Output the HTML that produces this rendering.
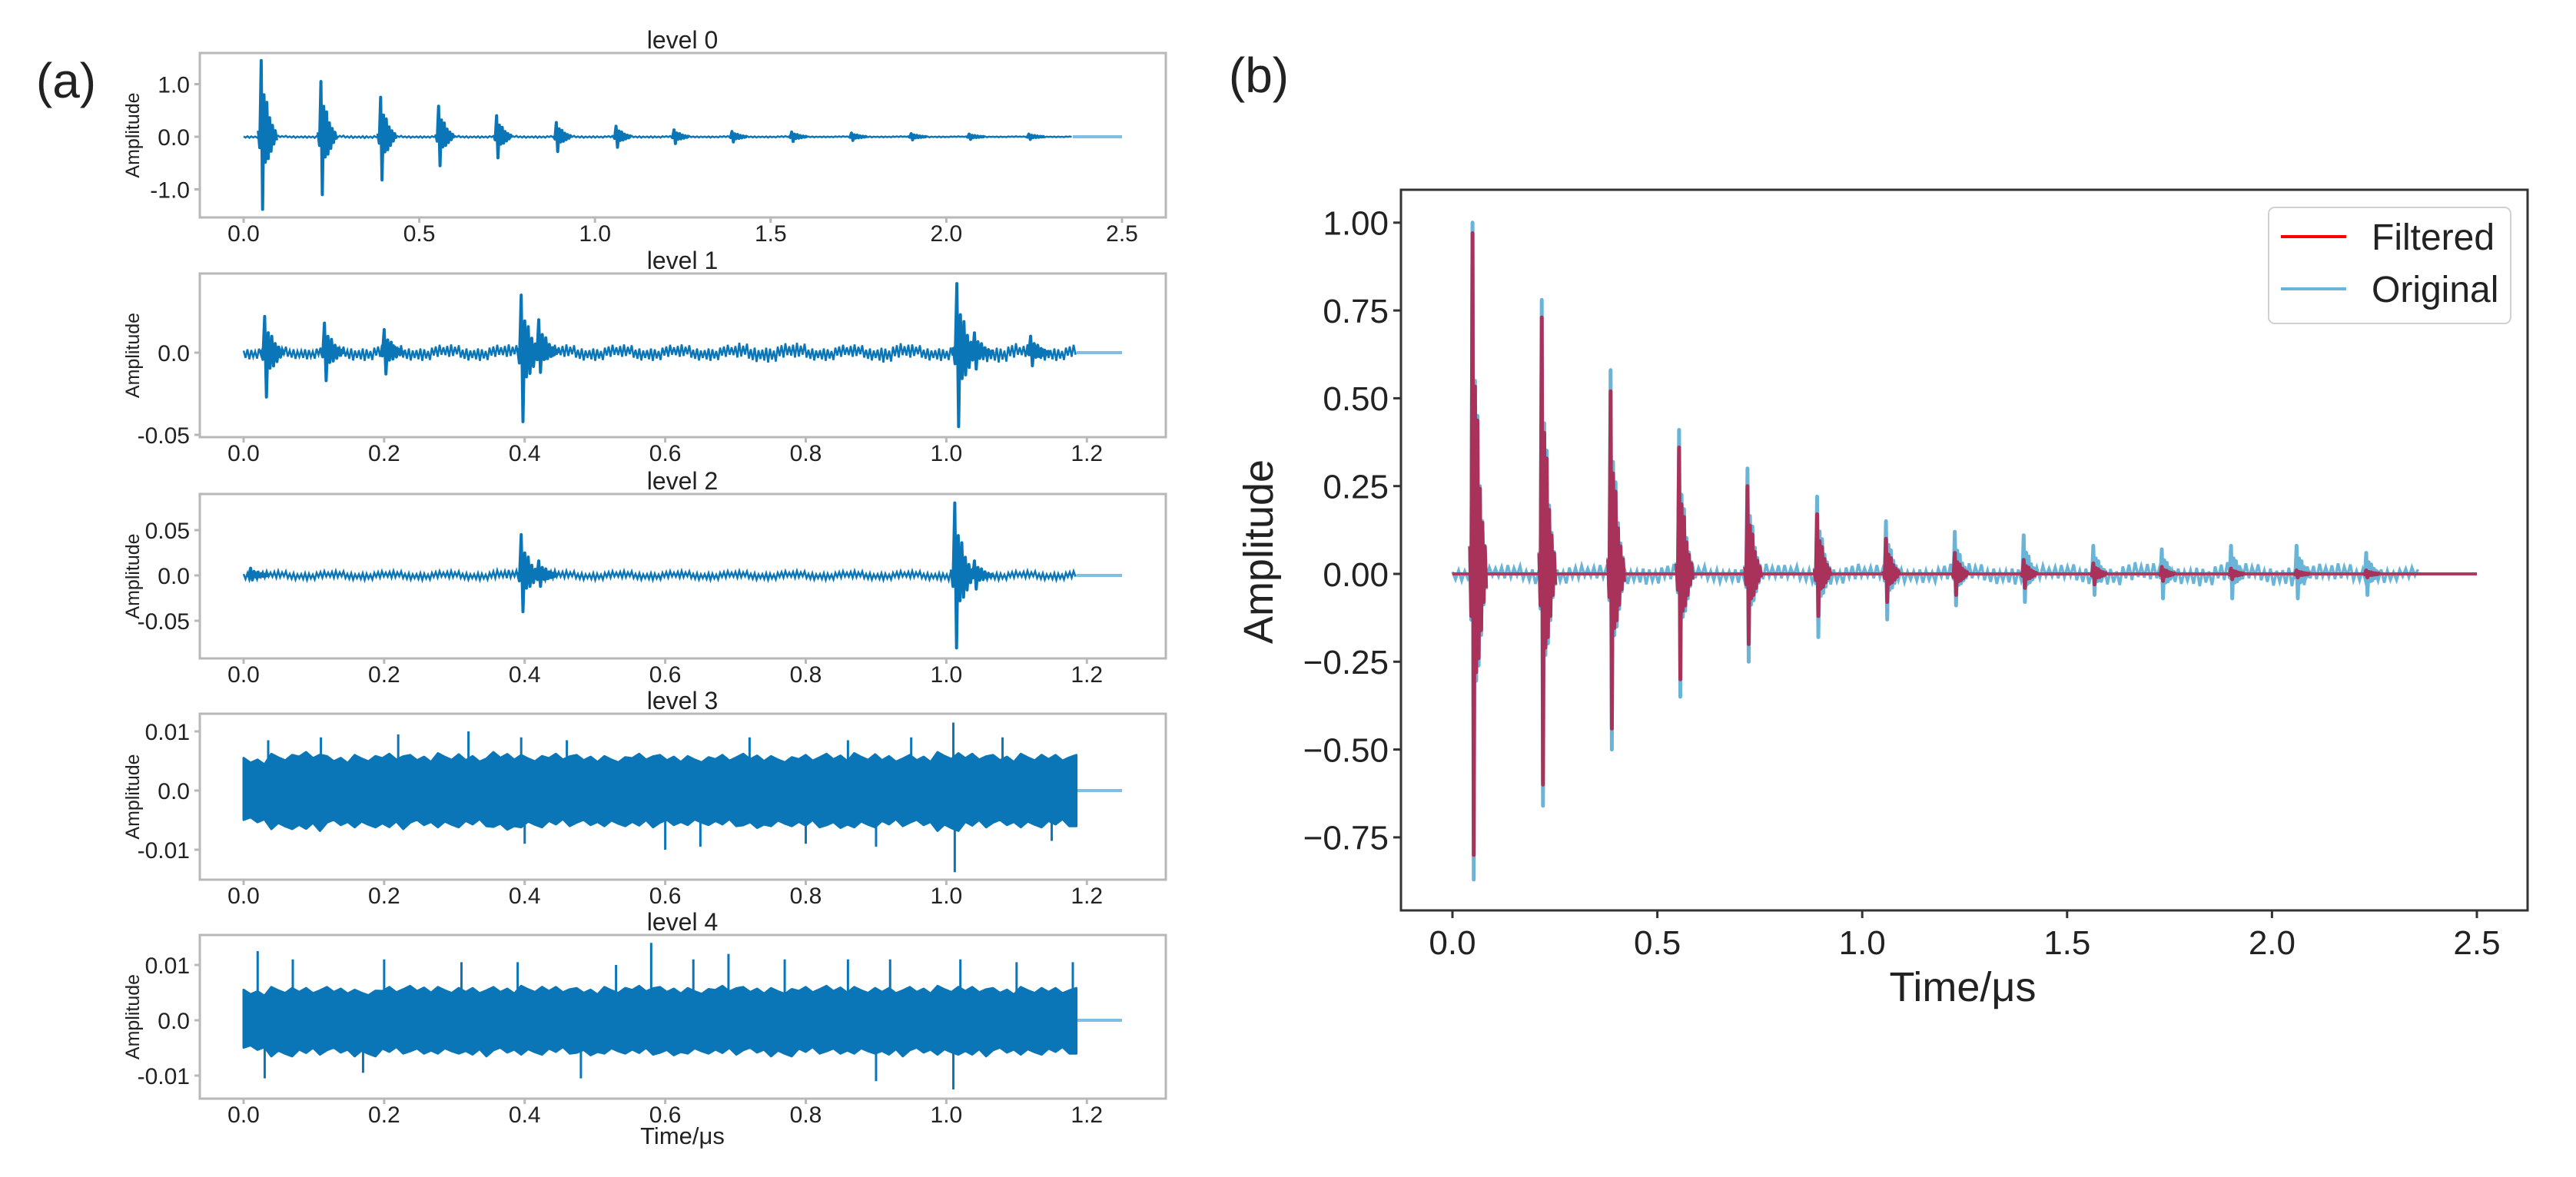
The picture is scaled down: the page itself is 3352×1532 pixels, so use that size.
<!DOCTYPE html>
<html><head><meta charset="utf-8">
<style>
html,body{margin:0;padding:0;background:#fff;}
svg{display:block;}
text{font-family:"Liberation Sans Narrow","Liberation Sans","DejaVu Sans",sans-serif;fill:#222;}
</style></head>
<body>
<svg id="fig" xmlns="http://www.w3.org/2000/svg" width="3352" height="1532" viewBox="0 0 3352 1532">
<text x="86" y="127" font-size="64" text-anchor="middle">(a)</text>
<text x="1638" y="120" font-size="64" text-anchor="middle">(b)</text>
<g id="layer"></g>
</svg>
<script>
// ---------- data ----------
const L0_burstTimes = [0.05,0.22,0.39,0.555,0.72,0.89,1.06,1.225,1.39,1.56,1.73,1.9,2.065,2.235];
const L0_burstMax   = [1.45,1.05,0.75,0.58,0.40,0.27,0.20,0.13,0.10,0.09,0.07,0.06,0.05,0.05];
const L0_burstMin   = [-1.38,-1.10,-0.82,-0.55,-0.40,-0.28,-0.20,-0.13,-0.10,-0.09,-0.07,-0.06,-0.05,-0.05];
const L0_noise = [0.02,0.025,0.02,0.02,0.02,0.018,0.015,0.015,0.012,0.012,0.01,0.01];
const L1_burstTimes = [0.03,0.115,0.2,0.395,0.42,1.015,1.04,1.12];
const L1_burstMax   = [0.022,0.018,0.014,0.035,0.02,0.042,0.012,0.01];
const L1_burstMin   = [-0.027,-0.017,-0.013,-0.042,-0.012,-0.045,-0.01,-0.008];
const L1_noise = [0.004,0.004,0.004,0.005,0.005,0.005,0.005,0.005,0.005,0.005,0.005,0.005,0.005,0.005,0.006,0.006,0.005,0.005,0.006,0.005,0.005,0.006,0.005,0.005];
const L2_burstTimes = [0.01,0.395,0.42,1.012,1.04];
const L2_burstMax   = [0.008,0.045,0.016,0.08,0.016];
const L2_burstMin   = [-0.005,-0.04,-0.012,-0.08,-0.015];
const L2_noise = [0.005,0.005,0.005,0.005,0.005,0.005,0.005,0.006,0.006,0.005,0.005,0.005,0.005,0.005,0.005,0.005,0.005,0.005,0.005,0.005,0.006,0.005,0.005,0.005];
const L3_coreMax = [0.0055,0.0062,0.0065,0.0058,0.006,0.0062,0.006,0.0063,0.0058,0.0065,0.006,0.0062,0.006,0.0058,0.0062,0.006,0.0058,0.006,0.0062,0.0058,0.006,0.0062,0.0063,0.0058,0.006,0.0065,0.0062,0.006,0.0062,0.006];
const L3_coreMin = [-0.0055,-0.0065,-0.0068,-0.006,-0.0062,-0.0065,-0.006,-0.0062,-0.006,-0.0068,-0.0062,-0.006,-0.006,-0.006,-0.0062,-0.006,-0.0058,-0.006,-0.0065,-0.006,-0.0062,-0.0065,-0.0062,-0.006,-0.006,-0.0068,-0.0062,-0.006,-0.0062,-0.006];
const L3_spikeTimes = [0.035,0.11,0.22,0.32,0.395,0.4,0.46,0.6,0.65,0.72,0.8,0.86,0.9,0.95,1.01,1.012,1.08,1.15];
const L3_spikeVals  = [0.0085,0.009,0.0095,0.01,0.009,-0.009,0.0085,-0.01,-0.0095,0.009,-0.009,0.0085,-0.0095,0.009,0.0115,-0.0138,0.009,-0.0085];
const L4_coreMax = [0.0055,0.006,0.0058,0.006,0.0055,0.006,0.0062,0.006,0.0058,0.006,0.0062,0.006,0.0058,0.006,0.0062,0.006,0.0058,0.0062,0.006,0.0058,0.006,0.0062,0.006,0.0058,0.006,0.0062,0.006,0.0058,0.006,0.0058];
const L4_coreMin = [-0.0055,-0.0065,-0.0062,-0.006,-0.0065,-0.006,-0.0062,-0.006,-0.0065,-0.006,-0.0062,-0.006,-0.0065,-0.006,-0.0062,-0.0065,-0.006,-0.0062,-0.006,-0.0065,-0.006,-0.0062,-0.006,-0.0065,-0.006,-0.0062,-0.0065,-0.006,-0.0062,-0.006];
const L4_spikeTimes = [0.02,0.07,0.2,0.31,0.39,0.53,0.58,0.64,0.69,0.77,0.86,0.92,1.01,1.1,1.18,0.03,0.17,0.48,0.9,1.02];
const L4_spikeVals  = [0.0125,0.011,0.011,0.0105,0.0105,0.01,0.014,0.011,0.012,0.011,0.011,0.011,-0.0125,0.0105,0.0105,-0.0105,-0.0095,-0.0105,-0.011,0.011];
const B_burstTimes = [0.049,0.218,0.386,0.553,0.72,0.89,1.058,1.226,1.394,1.564,1.731,1.9,2.06,2.23];
const B_origMax = [1.00,0.78,0.58,0.41,0.30,0.22,0.15,0.12,0.11,0.08,0.07,0.08,0.08,0.06];
const B_origMin = [-0.87,-0.66,-0.50,-0.35,-0.25,-0.18,-0.13,-0.09,-0.08,-0.06,-0.07,-0.07,-0.07,-0.06];
const B_filtMax = [0.97,0.73,0.52,0.36,0.25,0.17,0.10,0.06,0.04,0.03,0.02,0.015,0.01,0.01];
const B_filtMin = [-0.80,-0.60,-0.44,-0.30,-0.20,-0.12,-0.08,-0.06,-0.04,-0.03,-0.02,-0.015,-0.01,-0.01];
const B_noise = [0.02,0.025,0.03,0.025,0.03,0.03,0.025,0.03,0.025,0.03,0.025,0.025,0.03,0.03,0.025,0.03,0.035,0.03,0.035,0.03,0.035,0.03,0.025,0.02];
const B_yTicks = [1.0,0.75,0.5,0.25,0,-0.25,-0.5,-0.75];
const B_yLabels = ["1.00","0.75","0.50","0.25","0.00","\u22120.25","\u22120.50","\u22120.75"];
const B_xTicks = [0,0.5,1,1.5,2,2.5];
const B_xLabels = ["0.0","0.5","1.0","1.5","2.0","2.5"];
const A0_xTicks = [0,0.5,1,1.5,2,2.5];
const A0_xLabels = ["0.0","0.5","1.0","1.5","2.0","2.5"];
const A_xTicks = [0,0.2,0.4,0.6,0.8,1.0,1.2];
const A_xLabels = ["0.0","0.2","0.4","0.6","0.8","1.0","1.2"];

const PAT = [0.3,0.8,0.5,1,0.4,0.7,0.2,0.9,0.6,0.35,0.75,0.5,0.95,0.25,0.65];
const SHAPE = [0.08,0.15,1,1,0.55,0.35,0.45,0.3,0.25,0.2,0.15,0.1,0.08,0.05];
const PAT2 = [1,0.85,0.95,0.8,1,0.9,0.82,0.97,0.88,1,0.84,0.93];
const NS = 'http://www.w3.org/2000/svg';
const layer = document.getElementById('layer');
const BLUE = '#0a76b8';

function mk(tag, attrs, parent){
  const e = document.createElementNS(NS, tag);
  for (const k in attrs) e.setAttribute(k, attrs[k]);
  (parent||layer).appendChild(e);
  return e;
}
function txt(s, attrs, parent){ const e = mk('text', attrs, parent); e.textContent = s; return e; }

function axesFrame(p){
  const g = mk('g', {});
  
  
  const r = mk('rect', {x:p.l, y:p.t, width:p.r-p.l, height:p.b-p.t, fill:'none', stroke:p.frame, 'stroke-width':p.fw}, g);
  
  
  return g;
}
function drawTicks(g, p, sx, sy, xt, xl, yt, yl){
  xt.forEach((v,i)=>{
    const x = sx(v);
    mk('line',{x1:x,x2:x,y1:p.b,y2:p.b+p.tl,stroke:p.frame,'stroke-width':p.fw},g);
    const t = txt(xl[i],{x:x,y:p.xly,'font-size':p.fs,'text-anchor':'middle'},g);
    
    
  });
  yt.forEach((v,i)=>{
    const y = sy(v);
    mk('line',{x1:p.l-p.tl,x2:p.l,y1:y,y2:y,stroke:p.frame,'stroke-width':p.fw},g);
    const t = txt(yl[i],{x:p.l-p.tl-6,y:y+p.fs*0.36,'font-size':p.fs,'text-anchor':'end'},g);
    
    
  });
}
function noisePts(sx, sy, t0, t1, noise, binW, step){
  const pts = []; let i = 0;
  for (let t=t0; t<=t1; t+=step, i++){
    const b = Math.min(noise.length-1, Math.floor(t/binW));
    const a = noise[b]*PAT[i%PAT.length];
    pts.push(sx(t).toFixed(1)+','+sy(i%2? -a : a).toFixed(1));
  }
  return pts.join(' ');
}
function burstPts(sx, sy, tb, mx, mn, dt){
  const pts = [];
  SHAPE.forEach((s,k)=>{
    const t = tb + (k-2)*dt;
    const v = k%2===0 ? mx*s : mn*s;
    pts.push(sx(t).toFixed(1)+','+sy(v).toFixed(1));
  });
  return pts.join(' ');
}
function drawBursts(g, sx, sy, times, mx, mn, dt, color, w, nm){
  times.forEach((tb,i)=>{
    const pl = mk('polyline',{points:burstPts(sx,sy,tb,mx[i],mn[i],dt),fill:'none',stroke:color,'stroke-width':w,'stroke-linejoin':'round'},g);
    
    
  });
}

const A = [
 {name:'level-0-plot', title:'level 0', t:69, b:283, y0:178, k:68.5, xmax:2.5, dataEnd:2.36, xt:A0_xTicks, xl:A0_xLabels, yt:[1,0,-1], yl:["1.0","0.0","-1.0"], bt:L0_burstTimes, bmx:L0_burstMax, bmn:L0_burstMin, noise:L0_noise, binW:0.2, dt:0.004},
 {name:'level-1-plot', title:'level 1', t:356, b:569, y0:459, k:2140, xmax:1.25, dataEnd:1.185, xt:A_xTicks, xl:A_xLabels, yt:[0,-0.05], yl:["0.0","-0.05"], bt:L1_burstTimes, bmx:L1_burstMax, bmn:L1_burstMin, noise:L1_noise, binW:0.05, dt:0.0025},
 {name:'level-2-plot', title:'level 2', t:643, b:857, y0:749, k:1180, xmax:1.25, dataEnd:1.185, xt:A_xTicks, xl:A_xLabels, yt:[0.05,0,-0.05], yl:["0.05","0.0","-0.05"], bt:L2_burstTimes, bmx:L2_burstMax, bmn:L2_burstMin, noise:L2_noise, binW:0.05, dt:0.0025},
 {name:'level-3-plot', title:'level 3', t:929, b:1145, y0:1029, k:7700, xmax:1.25, dataEnd:1.185, xt:A_xTicks, xl:A_xLabels, yt:[0.01,0,-0.01], yl:["0.01","0.0","-0.01"], coreMax:L3_coreMax, coreMin:L3_coreMin, st:L3_spikeTimes, sv:L3_spikeVals},
 {name:'level-4-plot', title:'level 4', t:1217, b:1430, y0:1328, k:7200, xmax:1.25, dataEnd:1.185, xt:A_xTicks, xl:A_xLabels, yt:[0.01,0,-0.01], yl:["0.01","0.0","-0.01"], coreMax:L4_coreMax, coreMin:L4_coreMin, st:L4_spikeTimes, sv:L4_spikeVals}
];
A.forEach(a=>{
  const p = {name:a.name, l:260, r:1517, t:a.t, b:a.b, frame:'#b8b8b8', fw:3, tl:7, fs:30, xly:a.b+31};
  const g = axesFrame(p);
  const x0 = 317, xk = (1460-317)/a.xmax;
  const sx = v => x0 + v*xk;
  const sy = v => a.y0 - v*a.k;
  drawTicks(g, p, sx, sy, a.xt, a.xl, a.yt, a.yl);
  const tt = txt(a.title,{x:888,y:a.t-6,'font-size':32,'text-anchor':'middle'},g);
  
  
  const yl = txt('Amplitude',{x:0,y:0,'font-size':25,'text-anchor':'middle',transform:'translate(181,'+((a.t+a.b)/2)+') rotate(-90)'},g);
  
  
  mk('line',{x1:sx(a.dataEnd),x2:sx(a.xmax),y1:sy(0),y2:sy(0),stroke:'#7fbfe3','stroke-width':4},g);
  if (a.coreMax){
    const bw = a.dataEnd/a.coreMax.length;
    const up = [], lo = [];
    a.coreMax.forEach((v,i)=>{
      for (let j=0;j<4;j++){
        const t = (i+j/4)*bw;
        up.push(sx(t).toFixed(1)+','+sy(v*PAT2[(i*4+j)%PAT2.length]).toFixed(1));
      }
    });
    up.push(sx(a.dataEnd).toFixed(1)+','+sy(a.coreMax[a.coreMax.length-1]).toFixed(1));
    a.coreMin.forEach((v,i)=>{
      for (let j=0;j<4;j++){
        const t = (i+j/4)*bw;
        lo.push(sx(t).toFixed(1)+','+sy(v*PAT2[(i*4+j+5)%PAT2.length]).toFixed(1));
      }
    });
    lo.push(sx(a.dataEnd).toFixed(1)+','+sy(a.coreMin[a.coreMin.length-1]).toFixed(1));
    const poly = mk('polygon',{points:up.concat(lo.reverse()).join(' '),fill:BLUE,stroke:BLUE,'stroke-width':3,'stroke-linejoin':'round'},g);
    
    
    a.st.forEach((t,i)=>{
      const ln = mk('line',{x1:sx(t),x2:sx(t),y1:sy(0),y2:sy(a.sv[i]),stroke:BLUE,'stroke-width':3},g);
      
      
    });
  } else {
    const n = mk('polyline',{points:noisePts(sx,sy,0,a.dataEnd,a.noise,a.binW,2.5/xk),fill:'none',stroke:BLUE,'stroke-width':2.5},g);
    
    
    drawBursts(g, sx, sy, a.bt, a.bmx, a.bmn, a.dt, BLUE, 4, 'signal-burst');
  }
});
const ax = txt('Time/\u03bcs',{x:888,y:1489,'font-size':31,'text-anchor':'middle'});



(function(){
  const p = {name:'filtered-vs-original-plot', l:1823, r:3289, t:247, b:1185, frame:'#333', fw:3, tl:10, fs:44, xly:1242};
  const g = axesFrame(p);
  const sx = v => 1890 + v*(3223-1890)/2.5;
  const sy = v => 747 - v*457.2;
  drawTicks(g, p, sx, sy, B_xTicks, B_xLabels, B_yTicks, B_yLabels);
  const xt = txt('Time/\u03bcs',{x:2554,y:1303,'font-size':54,'text-anchor':'middle'},g);
  
  
  const yt = txt('Amplitude',{x:0,y:0,'font-size':54,'text-anchor':'middle',transform:'translate(1656,718) rotate(-90)'},g);
  
  
  const on = mk('polyline',{points:noisePts(sx,sy,0,2.36,B_noise,0.1,4/533),fill:'none',stroke:'#6ab4d8','stroke-width':3.5},g);
  
  
  mk('line',{x1:sx(2.36),x2:sx(2.5),y1:sy(0),y2:sy(0),stroke:'#6ab4d8','stroke-width':4},g);
  drawBursts(g, sx, sy, B_burstTimes, B_origMax, B_origMin, 0.003, '#6ab4d8', 5, 'original-burst');
  const fl = mk('line',{x1:sx(0),x2:sx(2.5),y1:sy(0),y2:sy(0),stroke:'#b03a5e','stroke-width':4},g);
  
  
  drawBursts(g, sx, sy, B_burstTimes, B_filtMax, B_filtMin, 0.003, '#a8325a', 5, 'filtered-burst');
  const lg = mk('g',{},g);
  
  
  mk('rect',{x:2952,y:270,width:315,height:151,rx:8,fill:'#fff','fill-opacity':0.85,stroke:'#d0d0d0','stroke-width':2},lg);
  mk('line',{x1:2968,x2:3053,y1:308,y2:308,stroke:'#ff0000','stroke-width':4},lg);
  mk('line',{x1:2968,x2:3053,y1:376,y2:376,stroke:'#6ab4d8','stroke-width':4},lg);
  const l1 = txt('Filtered',{x:3086,y:325,'font-size':48},lg);
  
  
  const l2 = txt('Original',{x:3086,y:393,'font-size':48},lg);
  
  
})();
</script>
</body></html>
